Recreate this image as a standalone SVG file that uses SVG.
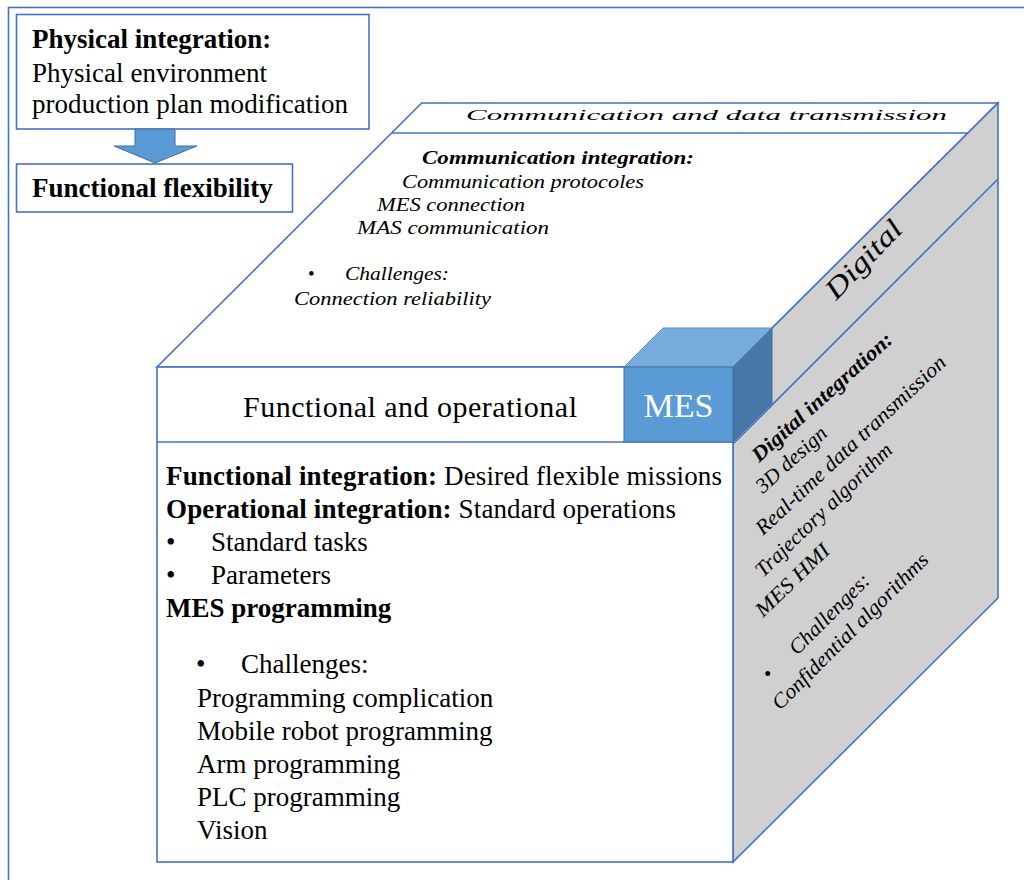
<svg xmlns="http://www.w3.org/2000/svg" width="1024" height="880" viewBox="0 0 1024 880">
<style>
.ln{stroke:#4472c4;stroke-width:1.6;fill:none}
.wf{fill:#ffffff;stroke:#4472c4;stroke-width:1.6}
.gf{fill:#d0d0d0;stroke:#4472c4;stroke-width:1.6}
.t{font-family:"Liberation Serif","Times New Roman",serif;fill:#000}
.b{font-weight:bold}
.i{font-style:italic}
.s27{font-size:27px}
.s18{font-size:19px}
.s21{font-size:21px}
</style>
<rect width="1024" height="880" fill="#ffffff"/>
<rect x="8.5" y="7.5" width="1100" height="1000" class="ln" stroke-width="2"/>

<g id="physical-integration">
<rect x="16.5" y="14.5" width="352.5" height="114.5" class="wf"/>
<text class="t b s27" x="32" y="48">Physical integration:</text>
<text class="t s27" x="32" y="82" textLength="235" lengthAdjust="spacing">Physical  environment</text>
<text class="t s27" x="32" y="113" textLength="316" lengthAdjust="spacing">production  plan modification</text>
</g>

<g id="connectors">
<polygon points="135,129 175,129 175,146 197,146 155,163 114,146 135,146" fill="#5b9bd5" stroke="#41719c" stroke-width="1"/>
</g>

<g id="functional-flexibility">
<rect x="16.5" y="164" width="276" height="48" class="wf"/>
<text class="t b s27" x="32" y="197">Functional flexibility</text>
</g>

<g id="top-face">
<polygon points="157,367 421.7,103 998,103 733,367" class="wf"/>
<line x1="392" y1="133" x2="968" y2="133" class="ln"/>
<text class="t i" font-size="15" x="466" y="120" textLength="481" lengthAdjust="spacingAndGlyphs">Communication and data transmission</text>
<text class="t b i s18" x="422" y="164" textLength="272" lengthAdjust="spacingAndGlyphs">Communication integration:</text>
<text class="t i s18" x="402" y="188" textLength="242" lengthAdjust="spacingAndGlyphs">Communication protocoles</text>
<text class="t i s18" x="377" y="211" textLength="148" lengthAdjust="spacingAndGlyphs">MES connection</text>
<text class="t i s18" x="357" y="234" textLength="192" lengthAdjust="spacingAndGlyphs">MAS communication</text>
<text class="t s18" x="308" y="280">•</text>
<text class="t i s18" x="345" y="280" textLength="104" lengthAdjust="spacingAndGlyphs">Challenges:</text>
<text class="t i s18" x="294" y="305" textLength="197" lengthAdjust="spacingAndGlyphs">Connection  reliability</text>
</g>

<g id="right-face">
<polygon points="733,367 998,103 998,598 733,862" class="gf"/>
<line x1="998" y1="179" x2="733" y2="444" class="ln"/>
<text class="t i" font-size="28" transform="translate(836,301) rotate(-46)" textLength="98" lengthAdjust="spacingAndGlyphs">Digital</text>
<text class="t b i s21" transform="translate(759,463) rotate(-42)" textLength="182" lengthAdjust="spacingAndGlyphs">Digital integration:</text>
<text class="t i s21" transform="translate(763,494) rotate(-42)" textLength="88" lengthAdjust="spacingAndGlyphs">3D design</text>
<text class="t i s21" transform="translate(763,536) rotate(-43)" textLength="252" lengthAdjust="spacingAndGlyphs">Real-time data  transmission</text>
<text class="t i s21" transform="translate(763,578) rotate(-44)" textLength="182" lengthAdjust="spacingAndGlyphs">Trajectory  algorithm</text>
<text class="t i s21" transform="translate(763,618) rotate(-44)" textLength="95" lengthAdjust="spacingAndGlyphs">MES HMI</text>
<text class="t s21" transform="translate(770,681) rotate(-45)">•</text>
<text class="t i s21" transform="translate(797,656) rotate(-45)" textLength="105" lengthAdjust="spacingAndGlyphs">Challenges:</text>
<text class="t i s21" transform="translate(780,711) rotate(-45)" textLength="212" lengthAdjust="spacingAndGlyphs">Confidential  algorithms</text>
</g>

<g id="front-face">
<rect x="157" y="367" width="576" height="495" class="wf"/>
<line x1="157" y1="442" x2="733" y2="442" class="ln"/>
<text class="t" font-size="30" x="243" y="417" textLength="334" lengthAdjust="spacing">Functional and operational</text>
<text class="t s27" x="166" y="485" textLength="556" lengthAdjust="spacing"><tspan class="b">Functional integration:</tspan> Desired flexible missions</text>
<text class="t s27" x="166" y="518" textLength="510" lengthAdjust="spacing"><tspan class="b">Operational integration:</tspan> Standard  operations</text>
<text class="t s27" x="166" y="551">•</text>
<text class="t s27" x="211" y="551">Standard  tasks</text>
<text class="t s27" x="166" y="584">•</text>
<text class="t s27" x="211" y="584">Parameters</text>
<text class="t b s27" x="166" y="617">MES programming</text>
<text class="t s27" x="196" y="673">•</text>
<text class="t s27" x="241" y="673">Challenges:</text>
<text class="t s27" x="197" y="707">Programming  complication</text>
<text class="t s27" x="197" y="740">Mobile robot programming</text>
<text class="t s27" x="197" y="773">Arm  programming</text>
<text class="t s27" x="197" y="806">PLC programming</text>
<text class="t s27" x="197" y="839">Vision</text>
</g>

<g id="mes">
<polygon points="624,367 663,328 772,328 733,367" fill="#78acdc" stroke="#5b8fc7" stroke-width="1"/>
<polygon points="733,367 772,328 772,403 733,442" fill="#4677a8" stroke="#41719c" stroke-width="1"/>
<rect x="624" y="367" width="109" height="75" fill="#5b9bd5" stroke="#41719c" stroke-width="1"/>
<text class="t" font-size="34" style="fill:#ffffff" x="678.5" y="417" text-anchor="middle">MES</text>
</g>
</svg>
